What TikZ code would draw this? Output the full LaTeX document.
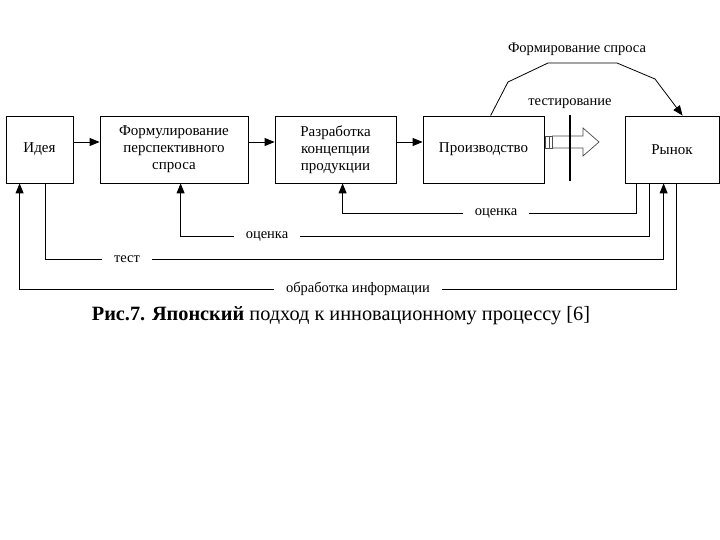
\documentclass[tikz,border=0pt]{standalone}
\usepackage{fontspec}
\setmainfont{Liberation Serif}
\usetikzlibrary{arrows.meta,calc}
\begin{document}
\begin{tikzpicture}[x=1pt,y=-1pt,
  box/.style={draw, line width=0.8pt, align=center, inner sep=0pt,
    font=\fontsize{15}{17}\selectfont},
  arr/.style={-{Triangle[length=10pt,width=8pt]}, line width=0.8pt},
  ln/.style={line width=0.8pt},
  lbl/.style={fill=white, inner xsep=12pt, inner ysep=1pt, font=\fontsize{14.5}{17}\selectfont},
  txt/.style={inner sep=0pt, font=\fontsize{14.5}{17}\selectfont}]
\useasboundingbox (0,0) rectangle (720,540);
\fill[white] (0,0) rectangle (720,540);
% boxes
\node[box, minimum width=67pt, minimum height=67pt] (idea) at (39.5,149.5) {Идея};
\node[box, minimum width=148pt, minimum height=67pt] (form) at (174,149.5) {Формулирование\\перспективного\\спроса};
\node[box, minimum width=121pt, minimum height=67pt] (razr) at (335.5,149.5) {Разработка\\концепции\\продукции};
\node[box, minimum width=121pt, minimum height=67pt] (prod) at (483.5,149.5) {Производство};
\node[box, minimum width=94pt, minimum height=67pt] (rynok) at (672,149.5) {Рынок};
% horizontal arrows
\coordinate (ya) at (0,142);
\draw[arr] (idea.east |- ya) -- (form.west |- ya);
\draw[arr] (form.east |- ya) -- (razr.west |- ya);
\draw[arr] (razr.east |- ya) -- (prod.west |- ya);
% hollow testing arrow
\draw[line width=0.7pt, draw=black!70] (545,136) rectangle (552,148);
\draw[line width=0.7pt, draw=black!70] (549,136) -- (549,148);
\draw[line width=0.7pt, draw=black!70] (552,136) -- (583,136) -- (583,128) -- (599,142) -- (583,156) -- (583,148) -- (552,148);
\draw[line width=2.5pt] (570,115) -- (570,181);
\node[txt] (ttest) at (570,104) {тестирование};
% demand formation curve
\draw[arr] ($(prod.north west)+(68,0)$) -- (508,82) -- (548,63) -- (617,63) -- (655,79) -- ($(rynok.north west)+(58,0)$);
\node[txt] (tfs) at (577,49) {Формирование спроса};
% feedback lines
\draw[arr] ($(rynok.south west)+(12,0)$) -- ++(0,30) -| ($(razr.south west)+(68,0)$);
\draw[arr] ($(rynok.south west)+(25,0)$) -- ++(0,53) -| ($(form.south west)+(81,0)$);
\draw[arr] ($(idea.south west)+(40,0)$) -- ++(0,76) -| ($(rynok.south west)+(39,0)$);
\draw[arr] ($(rynok.south west)+(52,0)$) -- ++(0,106) -| ($(idea.south west)+(14,0)$);
\node[lbl] (l1) at (496,213) {оценка};
\node[lbl] (l2) at (267,236) {оценка};
\node[lbl] (l3) at (127,259) {тест};
\node[lbl] (l4) at (358,289) {обработка информации};
% caption
\node[inner sep=0pt, font=\fontsize{20.3}{24}\selectfont] (cap) at (341,316) {\textbf{Рис.7. Японский} подход к инновационному процессу [6]};
\end{tikzpicture}
\end{document}
